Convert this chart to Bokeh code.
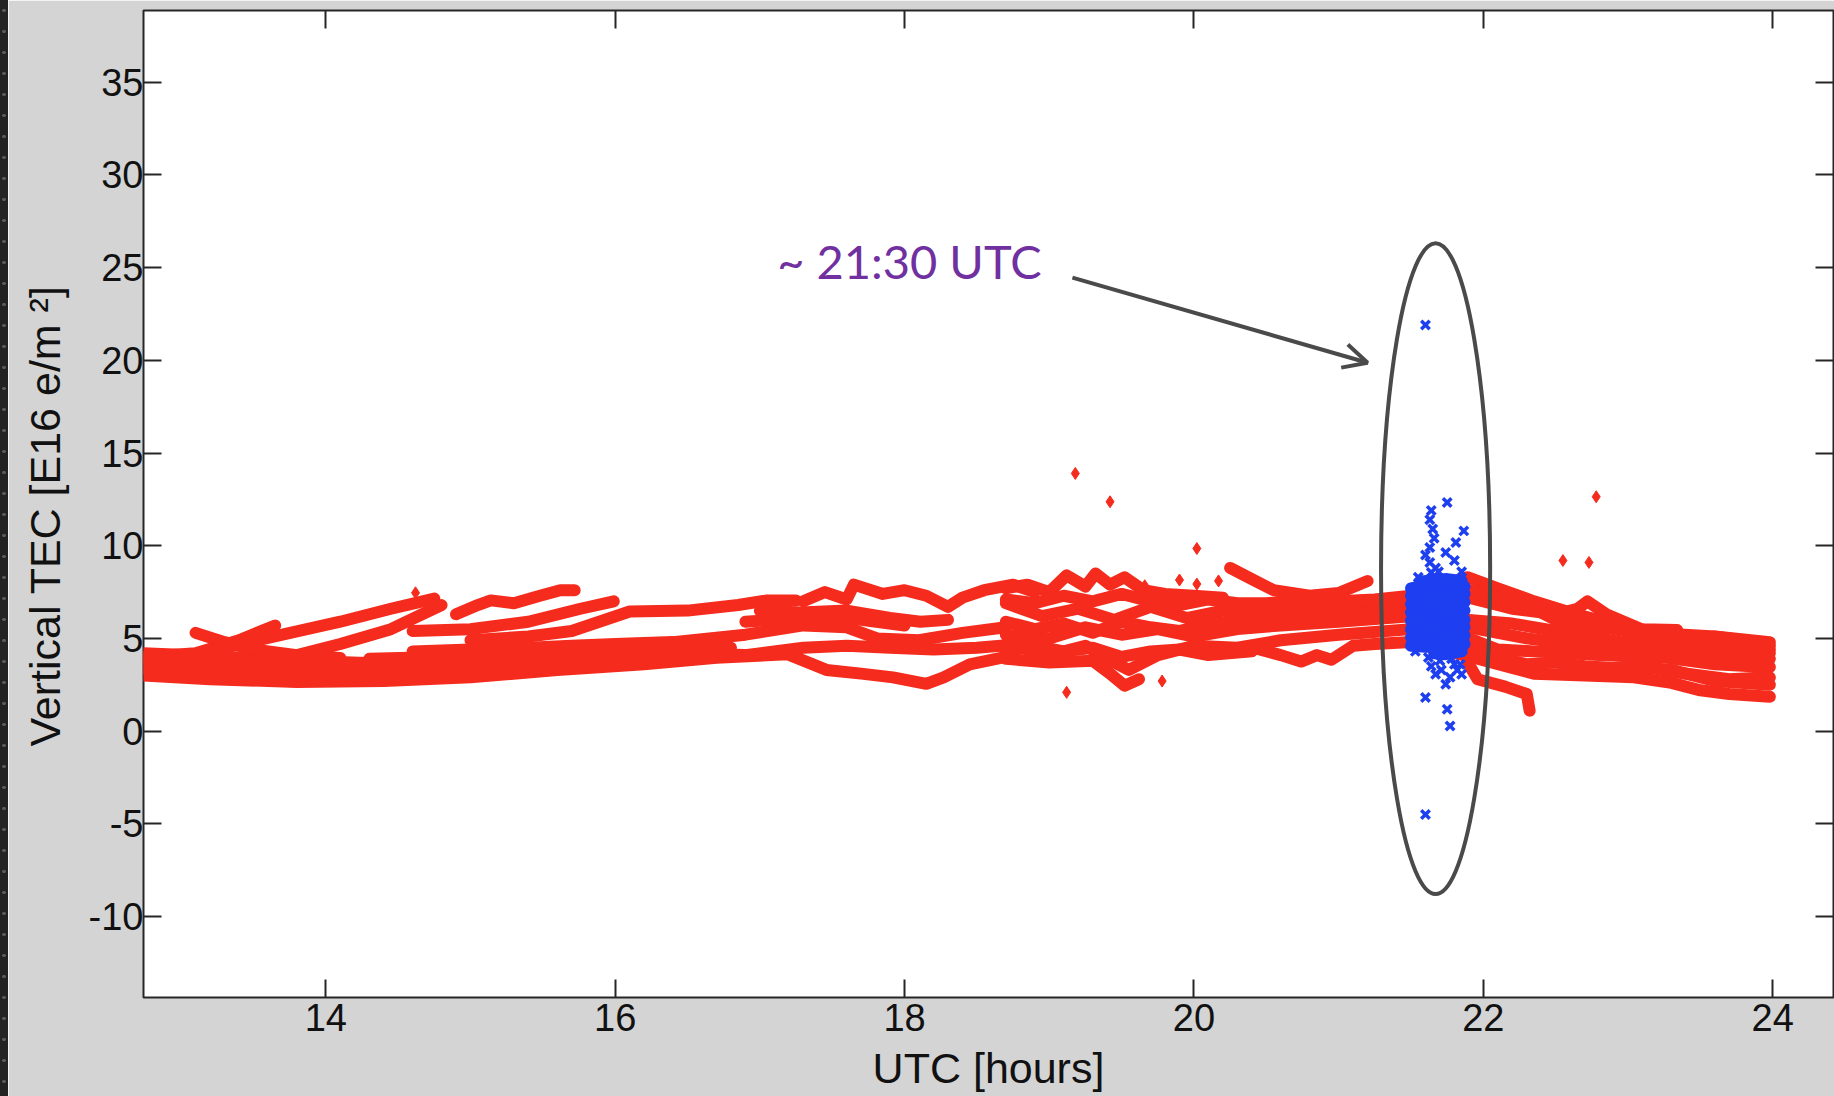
from bokeh.plotting import figure
from bokeh.models import Range1d, LinearAxis, FixedTicker, Arrow, OpenHead, Div
from bokeh.layouts import row
from bokeh.core.properties import value
from bokeh.embed import file_html
from bokeh.resources import INLINE

# ---------------- data ----------------
x_ticks = [14, 16, 18, 20, 22, 24]
y_ticks = [-10, -5, 0, 5, 10, 15, 20, 25, 30, 35]
y_tick_text = {-10: "-10", -5: "-5"}
x_label = "UTC [hours]"
y_label = "Vertical TEC [E16 e/m \u00b2]\u00a0\u00a0"

# red satellite tracks (UTC hours, VTEC)
red_tracks_x = [
    [12.74, 13.2, 13.8, 14.4, 15.0, 15.6, 16.2, 16.7, 17.19, 17.46, 17.7, 17.92, 18.15, 18.27, 18.45, 18.7],
    [12.74, 13.3, 13.9, 14.5, 15.0, 15.5, 15.85],
    [12.74, 13.2, 13.8, 14.4, 15.0, 15.5, 16.0, 16.4, 16.9, 17.3, 17.6, 17.9, 18.2, 18.5, 18.8],
    [13.1, 13.3, 13.5, 13.8, 14.1],
    [12.74, 13.1, 13.4, 13.65],
    [13.3, 13.7, 14.1, 14.45, 14.75],
    [13.7, 14.1, 14.45, 14.8],
    [14.6, 15.0, 15.4, 15.76, 15.99],
    [15.0, 15.4, 15.7, 16.1, 16.5, 16.85, 17.05, 17.25],
    [14.9, 15.05, 15.14, 15.3, 15.48, 15.62, 15.72],
    [14.6, 15.0, 15.4, 15.7, 16.0, 16.4, 16.9, 17.3, 17.6, 17.81, 18.1, 18.4, 18.7],
    [17.3, 17.45, 17.6, 17.65, 17.85, 18.0, 18.15, 18.3, 18.4, 18.55, 18.75, 18.9],
    [17.0, 17.28, 17.6, 17.9, 18.11, 18.3],
    [18.7, 18.85, 19.0, 19.12, 19.25, 19.32, 19.42, 19.52, 19.65, 19.8, 20.0, 20.2],
    [18.7, 18.95, 19.2, 19.45, 19.7, 19.95, 20.2, 20.5, 20.8, 21.1, 21.5],
    [20.25, 20.4, 20.55, 20.8, 21.0, 21.2],
    [18.7, 19.0, 19.25, 19.5, 19.75, 20.0, 20.3, 20.6, 21.0, 21.5],
    [18.7, 19.0, 19.25, 19.45, 19.55, 19.75, 20.0, 20.3, 20.6, 21.0, 21.5],
    [18.7, 19.0, 19.3, 19.42, 19.52, 19.62],
    [20.1, 20.41, 20.6, 20.74, 20.85, 20.95, 21.1, 21.25, 21.5],
    [21.0, 21.25, 21.5],
    [21.5, 21.7, 21.89, 22.1, 22.35, 22.6, 22.81, 23.0, 23.27, 23.6, 23.98],
    [21.5, 21.9, 22.2, 22.5, 22.65, 22.72, 22.85, 23.09, 23.34],
    [21.5, 21.9, 22.2, 22.5, 22.8, 23.1, 23.4, 23.7, 23.98],
    [21.5, 21.9, 22.1, 22.35, 22.8, 23.27, 23.6, 23.98],
    [21.5, 21.96, 22.2, 22.35, 22.7, 23.04, 23.3, 23.5, 23.7, 23.98],
    [21.9, 21.96, 22.15, 22.3, 22.32],
    [23.0, 23.3, 23.6, 23.98],
    [23.4, 23.59, 23.8, 23.98],
    [12.74, 13.3, 13.9, 14.5],
    [12.74, 13.3, 13.9, 14.5, 15.0],
    [14.3, 14.8, 15.3, 15.8, 16.3, 16.8],
    [16.9, 17.3, 17.7, 18.0],
    [18.7, 18.9, 19.1, 19.3, 19.5, 19.7, 19.9, 20.1, 20.3, 20.5, 20.7, 20.9, 21.1, 21.3, 21.5],
    [18.7, 18.9, 19.1, 19.3, 19.5, 19.7, 19.9, 20.1, 20.4, 20.7, 21.0, 21.3, 21.5],
    [18.7, 18.9, 19.1, 19.3, 19.5, 19.7, 19.9, 20.1, 20.4],
    [21.9, 22.1, 22.3, 22.5, 22.7, 22.9, 23.1, 23.3, 23.5, 23.7, 23.98],
    [21.9, 22.1, 22.3, 22.5, 22.7, 22.9, 23.1, 23.3, 23.5, 23.7, 23.98],
    [21.9, 22.1, 22.3, 22.6, 22.9, 23.2, 23.5, 23.8, 23.98],
]
red_tracks_y = [
    [3.0, 2.8, 2.65, 2.7, 2.9, 3.3, 3.6, 3.95, 4.15, 3.3, 3.1, 2.9, 2.55, 2.9, 3.6, 4.0],
    [3.6, 3.45, 3.3, 3.2, 3.2, 3.4, 3.5],
    [4.2, 4.05, 3.8, 3.65, 3.6, 3.9, 4.1, 4.2, 4.1, 4.5, 4.6, 4.5, 4.4, 4.5, 4.7],
    [5.3, 4.8, 4.4, 4.1, 3.95],
    [4.0, 4.2, 4.9, 5.7],
    [4.5, 5.2, 5.9, 6.6, 7.15],
    [3.9, 4.7, 5.5, 6.8],
    [5.4, 5.5, 5.9, 6.6, 7.0],
    [4.9, 5.1, 5.4, 6.45, 6.5, 6.8, 7.05, 7.05],
    [6.3, 6.8, 7.05, 6.9, 7.3, 7.6, 7.6],
    [4.3, 4.4, 4.5, 4.6, 4.7, 4.8, 5.2, 5.7, 5.6, 5.0, 4.9, 5.3, 5.6],
    [7.0, 7.5, 7.1, 7.9, 7.4, 7.6, 7.3, 6.7, 7.2, 7.6, 7.9, 7.5],
    [6.5, 6.4, 6.5, 6.1, 5.9, 6.0],
    [7.7, 7.9, 7.5, 8.4, 7.8, 8.5, 7.9, 8.3, 7.6, 7.4, 7.3, 7.2],
    [6.9, 6.2, 6.6, 6.0, 6.7, 6.1, 6.5, 6.3, 6.6, 6.7, 6.9],
    [8.8, 8.2, 7.6, 7.3, 7.45, 8.1],
    [5.2, 5.0, 5.6, 5.2, 5.5, 5.1, 5.5, 5.7, 5.9, 6.2],
    [4.7, 4.1, 4.6, 3.7, 3.3, 4.1, 4.6, 4.5, 4.9, 5.2, 5.5],
    [3.9, 3.7, 3.8, 3.1, 2.45, 2.8],
    [4.3, 4.5, 4.1, 3.75, 4.1, 3.85, 4.6, 4.7, 4.8],
    [7.0, 7.1, 7.3],
    [7.3, 7.8, 8.3, 7.7, 7.0, 6.4, 5.95, 5.6, 5.25, 5.1, 4.8],
    [6.9, 7.2, 6.6, 6.3, 6.6, 7.0, 6.3, 5.5, 5.45],
    [6.2, 6.0, 5.8, 5.4, 5.0, 4.6, 4.3, 4.1, 4.4],
    [5.5, 5.0, 4.4, 4.3, 4.1, 3.95, 3.6, 3.45],
    [4.8, 3.9, 3.4, 3.1, 3.0, 2.9, 2.6, 2.2, 2.0, 1.85],
    [3.6, 2.8, 2.4, 2.0, 1.1],
    [3.5, 3.3, 2.7, 2.5],
    [4.8, 5.1, 4.9, 4.6],
    [3.35, 3.2, 3.05, 2.95],
    [3.9, 3.8, 3.6, 3.45, 3.35],
    [3.9, 4.0, 4.1, 4.2, 4.4, 4.5],
    [5.9, 6.1, 6.0, 5.7],
    [7.1, 6.9, 7.3, 7.0, 7.4, 7.0, 6.8, 7.1, 6.9, 6.9, 7.0, 6.8, 7.0, 7.1, 7.2],
    [5.9, 5.5, 5.8, 5.3, 5.9, 5.6, 5.4, 5.8, 6.0, 6.1, 6.3, 6.4, 6.5],
    [4.3, 4.6, 4.3, 4.5, 4.0, 4.3, 4.4, 4.1, 4.3],
    [7.6, 7.2, 6.8, 6.0, 5.7, 5.5, 5.2, 4.9, 4.6, 4.5, 4.2],
    [4.6, 4.0, 3.6, 3.7, 3.5, 3.4, 3.5, 3.2, 3.0, 2.8, 2.9],
    [5.6, 5.3, 5.0, 4.7, 4.5, 4.3, 4.0, 3.7, 3.9],
]

# isolated red samples
red_pts_x = [14.62, 19.18, 19.42, 20.02, 19.12, 19.78, 22.78, 22.55, 22.73, 19.9, 20.02, 20.17, 19.66]
red_pts_y = [7.46, 13.9, 12.37, 9.85, 2.09, 2.7, 12.64, 9.2, 9.1, 8.15, 7.93, 8.1, 7.84]

# flagged (blue) samples around 21:30 UTC - dense core drawn as tracks
blue_tracks_x = [
    [21.50, 21.6, 21.7, 21.8, 21.87],
    [21.50, 21.6, 21.7, 21.8, 21.87],
    [21.50, 21.6, 21.7, 21.8, 21.87],
    [21.50, 21.6, 21.7, 21.8, 21.87],
    [21.50, 21.6, 21.7, 21.8, 21.87],
    [21.50, 21.6, 21.7, 21.8, 21.87],
    [21.50, 21.6, 21.7, 21.8, 21.87],
    [21.50, 21.6, 21.7, 21.8, 21.87],
    [21.56, 21.65, 21.75, 21.85],
    [21.66, 21.74, 21.85],
]
blue_tracks_y = [
    [4.6, 4.55, 4.7, 4.6, 4.7],
    [5.05, 5.0, 5.15, 5.1, 5.15],
    [5.5, 5.5, 5.6, 5.55, 5.6],
    [5.95, 6.0, 5.95, 6.05, 6.0],
    [6.4, 6.45, 6.5, 6.45, 6.5],
    [6.85, 6.9, 6.9, 7.0, 6.95],
    [7.3, 7.4, 7.35, 7.45, 7.4],
    [7.7, 7.85, 7.9, 7.85, 7.8],
    [8.05, 8.15, 8.2, 8.1],
    [4.2, 4.15, 4.3],
]
blue_pts_x = [21.75, 21.64, 21.63, 21.65, 21.66, 21.865, 21.81, 21.74, 21.6, 21.63, 21.67, 21.8, 21.85,
              21.55, 21.62, 21.64, 21.67, 21.85, 21.8, 21.74, 21.6, 21.75, 21.77, 21.6, 21.6, 21.53,
              21.7, 21.78, 21.63, 21.64, 21.82, 21.71, 21.77, 21.84, 21.69]
blue_pts_y = [12.33, 11.9, 11.4, 10.9, 10.4, 10.8, 10.17, 9.63, 9.5, 9.1, 8.8, 9.2, 8.6,
              8.3, 3.97, 3.5, 3.07, 3.07, 3.6, 2.53, 1.81, 1.18, 0.28, 21.9, -4.5, 4.3,
              3.8, 3.9, 9.9, 8.55, 3.3, 3.3, 2.9, 3.6, 8.6]

# slide annotation
note_text = ["~ 21:30 UTC"]
note_x = [17.12]
note_y = [25.35]
arrow_from = (19.16, 24.46)
arrow_to = (21.20, 19.87)
ell_x = [21.67]
ell_y = [8.76]
ell_w = [0.754]
ell_h = [35.1]

# ---------------- figure ----------------
RED = "#f52b1d"
BLUE = "#1e3ff0"
FRAME = "#262626"
GRAY_BG = "#d4d4d4"
FONT = "Liberation Sans"

p = figure(width=1826, height=1096,
           x_range=Range1d(12.74, 24.42), y_range=Range1d(-14.37, 38.87),
           output_backend="svg", toolbar_location=None,
           min_border_left=135, min_border_right=1, min_border_top=10, min_border_bottom=99,
           background_fill_color="white", border_fill_color=GRAY_BG,
           outline_line_color=FRAME, outline_line_width=2, margin=0)
p.grid.visible = False

for ax in (p.xaxis[0], p.yaxis[0]):
    ax.major_tick_in = 18
    ax.major_tick_out = 0
    ax.minor_tick_line_color = None
    ax.axis_line_color = None
    ax.major_tick_line_color = FRAME
    ax.major_tick_line_width = 2
    ax.major_label_text_font = FONT
    ax.major_label_text_font_size = "38px"
    ax.major_label_text_color = "#111111"
    ax.axis_label_text_font = FONT
    ax.axis_label_text_font_size = "43px"
    ax.axis_label_text_font_style = "normal"
    ax.axis_label_text_color = "#111111"

p.xaxis.ticker = FixedTicker(ticks=x_ticks)
p.yaxis.ticker = FixedTicker(ticks=y_ticks)
p.yaxis.major_label_overrides = y_tick_text
p.xaxis.axis_label = x_label
p.yaxis.axis_label = y_label
p.xaxis.major_label_standoff = 6
p.xaxis.axis_label_standoff = 10
p.yaxis.major_label_standoff = 0
p.yaxis.axis_label_standoff = 17

top_ax = LinearAxis(ticker=FixedTicker(ticks=x_ticks),
                    major_label_overrides={t: "" for t in x_ticks},
                    major_label_text_font_size="1px",
                    major_label_standoff=0, axis_line_color=None, minor_tick_line_color=None,
                    major_tick_in=18, major_tick_out=0, major_tick_line_color=FRAME,
                    major_tick_line_width=2)
right_ax = LinearAxis(ticker=FixedTicker(ticks=y_ticks),
                      major_label_overrides={t: "" for t in y_ticks},
                      major_label_text_font_size="1px",
                      major_label_standoff=0, axis_line_color=None, minor_tick_line_color=None,
                      major_tick_in=18, major_tick_out=0, major_tick_line_color=FRAME,
                      major_tick_line_width=2)
p.add_layout(top_ax, "above")
p.add_layout(right_ax, "right")

p.multi_line(xs=red_tracks_x, ys=red_tracks_y, line_color=RED, line_width=12,
             line_cap="round", line_join="round")
p.scatter(red_pts_x, red_pts_y, marker="diamond", size=12, fill_color=RED, line_color=RED)

p.multi_line(xs=blue_tracks_x, ys=blue_tracks_y, line_color=BLUE, line_width=12,
             line_cap="round", line_join="round")
p.scatter(blue_pts_x, blue_pts_y, marker="x", size=12, line_color=BLUE, line_width=3.5)

p.ellipse(x=ell_x, y=ell_y, width=ell_w, height=ell_h, fill_color=None,
          line_color="#4a4a4a", line_width=4)

p.text(x=note_x, y=note_y, text=note_text, text_font=value("Lato"), text_font_size="47px",
       text_color="#7030a0", text_baseline="alphabetic", text_align="left")

p.add_layout(Arrow(end=OpenHead(size=24, line_width=4, line_color="#4a4a4a"),
                   x_start=arrow_from[0], y_start=arrow_from[1],
                   x_end=arrow_to[0], y_end=arrow_to[1],
                   line_width=4, line_color="#4a4a4a"))

strip = Div(width=8, height=1096, margin=0, styles={
    "background-color": "#232323",
    "background-image": "radial-gradient(circle, #5a5a5a 1.5px, transparent 2px)",
    "background-size": "8px 21px",
})

layout = row(strip, p, spacing=0, margin=0)
open("out.html", "w").write(file_html(layout, INLINE))
